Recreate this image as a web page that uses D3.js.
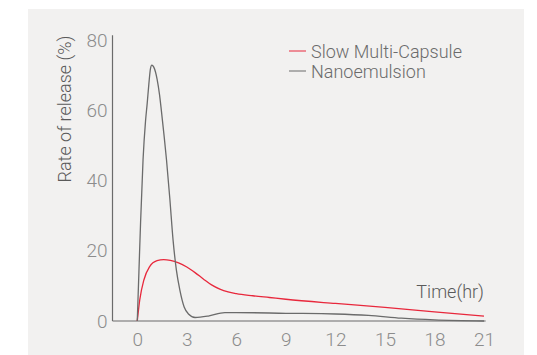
<!DOCTYPE html>
<html>
<head>
<meta charset="utf-8">
<script src="https://cdn.jsdelivr.net/npm/d3@7"></script>
<style>
  body { margin: 0; background: #fff; }
  svg text { font-family: Roboto, "DejaVu Sans", sans-serif; font-weight: 300; }
</style>
</head>
<body>
<svg id="chart" width="537" height="355"></svg>
<script>
// time (hr) and release rate (%)
const slowTime = [0, 0.15, 0.4, 0.75, 1.2, 1.6, 2.0, 2.5, 3.0, 3.5, 4.0, 4.5, 5.0, 5.5, 6.0, 7, 8, 9, 12, 15, 18, 21];
const slowRate = [0, 6, 11.7, 15.5, 17.2, 17.5, 17.3, 16.6, 15.4, 13.8, 12.0, 10.3, 9.1, 8.3, 7.8, 7.2, 6.7, 6.2, 5.0, 3.9, 2.6, 1.4];

const nanoTime = [0, 0.1, 0.2, 0.35, 0.5, 0.6, 0.7, 0.8, 0.88, 1.0, 1.1, 1.2, 1.35, 1.46, 1.62, 1.77, 1.97, 2.17, 2.37, 2.58, 2.84, 3.1, 3.5, 4.3, 5.3, 6, 9, 12, 14, 16, 18, 21];
const nanoRate = [0, 14, 28, 46, 57, 62, 67.5, 72, 73, 72.4, 71.1, 69, 64.5, 60, 53, 46, 35, 23, 14.5, 8.8, 4, 2, 1.0, 1.4, 2.4, 2.4, 2.2, 2.0, 1.6, 0.8, 0.3, 0];

const xTicks = [0, 3, 6, 9, 12, 15, 18, 21];
const yTicks = [0, 20, 40, 60, 80];

const seriesNames = ["Slow Multi-Capsule", "Nanoemulsion"];
const seriesColors = ["#e8283c", "#6b6b6b"];

const svg = d3.select("#chart");

// light panel behind the chart
svg.append("rect")
  .attr("x", 28).attr("y", 9)
  .attr("width", 496).attr("height", 346)
  .attr("fill", "#f2f1f0");

const x = d3.scaleLinear().domain([-1.5, 21]).range([112.5, 484]);
const y = d3.scaleLinear().domain([0, 80]).range([321, 40.5]);

// axes
const yAxis = svg.append("g")
  .attr("transform", "translate(112.5,0)")
  .call(d3.axisLeft(y).tickValues(yTicks).tickSize(0).tickPadding(5));
yAxis.select(".domain").remove();
yAxis.selectAll("text")
  .attr("fill", "#8c8c8c")
  .style("font-size", "19px");

const xAxis = svg.append("g")
  .attr("transform", "translate(0,321)")
  .call(d3.axisBottom(x).tickValues(xTicks).tickSize(0).tickPadding(12));
xAxis.select(".domain").remove();
xAxis.selectAll("text")
  .attr("fill", "#8c8c8c")
  .style("font-size", "19px");

svg.append("line")
  .attr("x1", 112.5).attr("x2", 112.5)
  .attr("y1", y(0)).attr("y2", y(81.5))
  .attr("stroke", "#6b6b6b").attr("stroke-width", 1.2);

svg.append("line")
  .attr("x1", 112.5).attr("x2", x(21.1))
  .attr("y1", y(0)).attr("y2", y(0))
  .attr("stroke", "#6b6b6b").attr("stroke-width", 1.2);

// curves
const line = d3.line()
  .x(d => x(d[0]))
  .y(d => y(d[1]))
  .curve(d3.curveMonotoneX);

const series = [
  d3.zip(slowTime, slowRate),
  d3.zip(nanoTime, nanoRate)
];

svg.selectAll(".series")
  .data(series)
  .enter()
  .append("path")
  .attr("class", "series")
  .attr("d", line)
  .attr("fill", "none")
  .attr("stroke", (d, i) => seriesColors[i])
  .attr("stroke-width", 1.3);

// axis titles
svg.append("text")
  .attr("transform", "translate(71,109) rotate(-90)")
  .attr("text-anchor", "middle")
  .attr("fill", "#5a5a5a")
  .style("font-size", "18px")
  .text("Rate of release (%)");

svg.append("text")
  .attr("x", 484).attr("y", 298)
  .attr("text-anchor", "end")
  .attr("fill", "#5a5a5a")
  .style("font-size", "18px")
  .text("Time(hr)");

// legend
const legend = svg.selectAll(".legend")
  .data(seriesNames)
  .enter()
  .append("g")
  .attr("class", "legend")
  .attr("transform", (d, i) => "translate(289," + (51 + i * 20) + ")");

legend.append("line")
  .attr("x1", 0).attr("x2", 17)
  .attr("stroke", (d, i) => seriesColors[i])
  .attr("stroke-width", 1);

legend.append("text")
  .attr("x", 22).attr("y", 6.5)
  .attr("fill", "#6b6b6b")
  .style("font-size", "18px")
  .text(d => d);
</script>
</body>
</html>
